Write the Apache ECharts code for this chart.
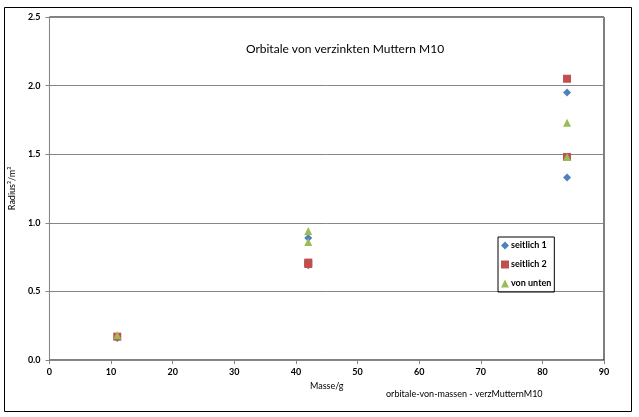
<!DOCTYPE html>
<html>
<head>
<meta charset="utf-8">
<script src="https://cdn.jsdelivr.net/npm/echarts@6/dist/echarts.min.js"></script>
<style>html,body{margin:0;padding:0;background:#fff}#c{width:639px;height:417px}</style>
</head>
<body>
<div id="c"></div>
<script>
var seriesNames = ['seitlich 1', 'seitlich 2', 'von unten'];
var seitlich1 = [[11, 0.16], [42, 0.89], [42, 0.69], [84, 1.95], [84, 1.33]];
var seitlich2 = [[11, 0.17], [42, 0.70], [42, 0.71], [84, 2.05], [84, 1.48]];
var vonUnten = [[11, 0.18], [42, 0.94], [42, 0.86], [84, 1.73], [84, 1.48]];
var titleText = 'Orbitale von verzinkten Muttern M10';
var footText = 'orbitale-von-massen - verzMutternM10';

var font = 'Lato, "Open Sans", sans-serif';
var chart = echarts.init(document.getElementById('c'));
chart.setOption({
  animation: false,
  backgroundColor: '#fff',
  title: {
    text: titleText, left: 340, top: 38, textAlign: 'center',
    textStyle: {fontFamily: font, fontSize: 12, fontWeight: 'normal', color: '#000'}
  },
  graphic: [
    {type: 'rect', shape: {x: 4.5, y: 7.5, width: 627, height: 404}, style: {fill: null, stroke: '#000', lineWidth: 1}, silent: true, z: -1},
    {type: 'text', left: 386, top: 390, style: {text: footText, font: '9px ' + font, fill: '#000'}}
  ],
  legend: {
    orient: 'vertical', left: 498, top: 237,
    borderColor: '#000', borderWidth: 1, padding: [4, 3, 4, 3],
    itemWidth: 8, itemHeight: 8, itemGap: 10,
    textStyle: {fontFamily: font, fontSize: 9, fontWeight: 'bold', color: '#000', padding: [0, 0, 0, -3]},
    data: [
      {name: seriesNames[0], icon: 'diamond'},
      {name: seriesNames[1], icon: 'rect'},
      {name: seriesNames[2], icon: 'triangle'}
    ]
  },
  grid: {left: 49, top: 17, right: 35, bottom: 57, show: true, borderColor: '#000', borderWidth: 1},
  xAxis: {
    type: 'value', min: 0, max: 90, interval: 10,
    name: 'Masse/g', nameLocation: 'middle', nameGap: 20,
    nameTextStyle: {fontFamily: font, fontSize: 9, color: '#000'},
    axisLine: {lineStyle: {color: '#868686'}},
    axisTick: {show: true, lineStyle: {color: '#868686'}, length: 4},
    axisLabel: {fontFamily: font, fontSize: 9, fontWeight: 'bold', color: '#000', margin: 8},
    splitLine: {show: false}
  },
  yAxis: {
    type: 'value', min: 0, max: 2.5, interval: 0.5,
    name: 'Radius³/m³', nameLocation: 'middle', nameGap: 30,
    nameTextStyle: {fontFamily: font, fontSize: 9, color: '#000'},
    axisLine: {show: true, lineStyle: {color: '#868686'}},
    axisTick: {show: true, lineStyle: {color: '#868686'}, length: 4},
    axisLabel: {fontFamily: font, fontSize: 9, fontWeight: 'bold', color: '#000', margin: 9,
      formatter: function (v) { return v.toFixed(1); }},
    splitLine: {show: true, lineStyle: {color: '#868686'}}
  },
  series: [
    {name: seriesNames[0], type: 'scatter', symbol: 'diamond', symbolSize: 8, itemStyle: {color: '#4F81BD', opacity: 1}, data: seitlich1, z: 2},
    {name: seriesNames[1], type: 'scatter', symbol: 'rect', symbolSize: 8, itemStyle: {color: '#C0504D', opacity: 1}, data: seitlich2, z: 3},
    {name: seriesNames[2], type: 'scatter', symbol: 'triangle', symbolSize: 8, itemStyle: {color: '#9BBB59', opacity: 1}, data: vonUnten, z: 4}
  ]
});
</script>
</body>
</html>
